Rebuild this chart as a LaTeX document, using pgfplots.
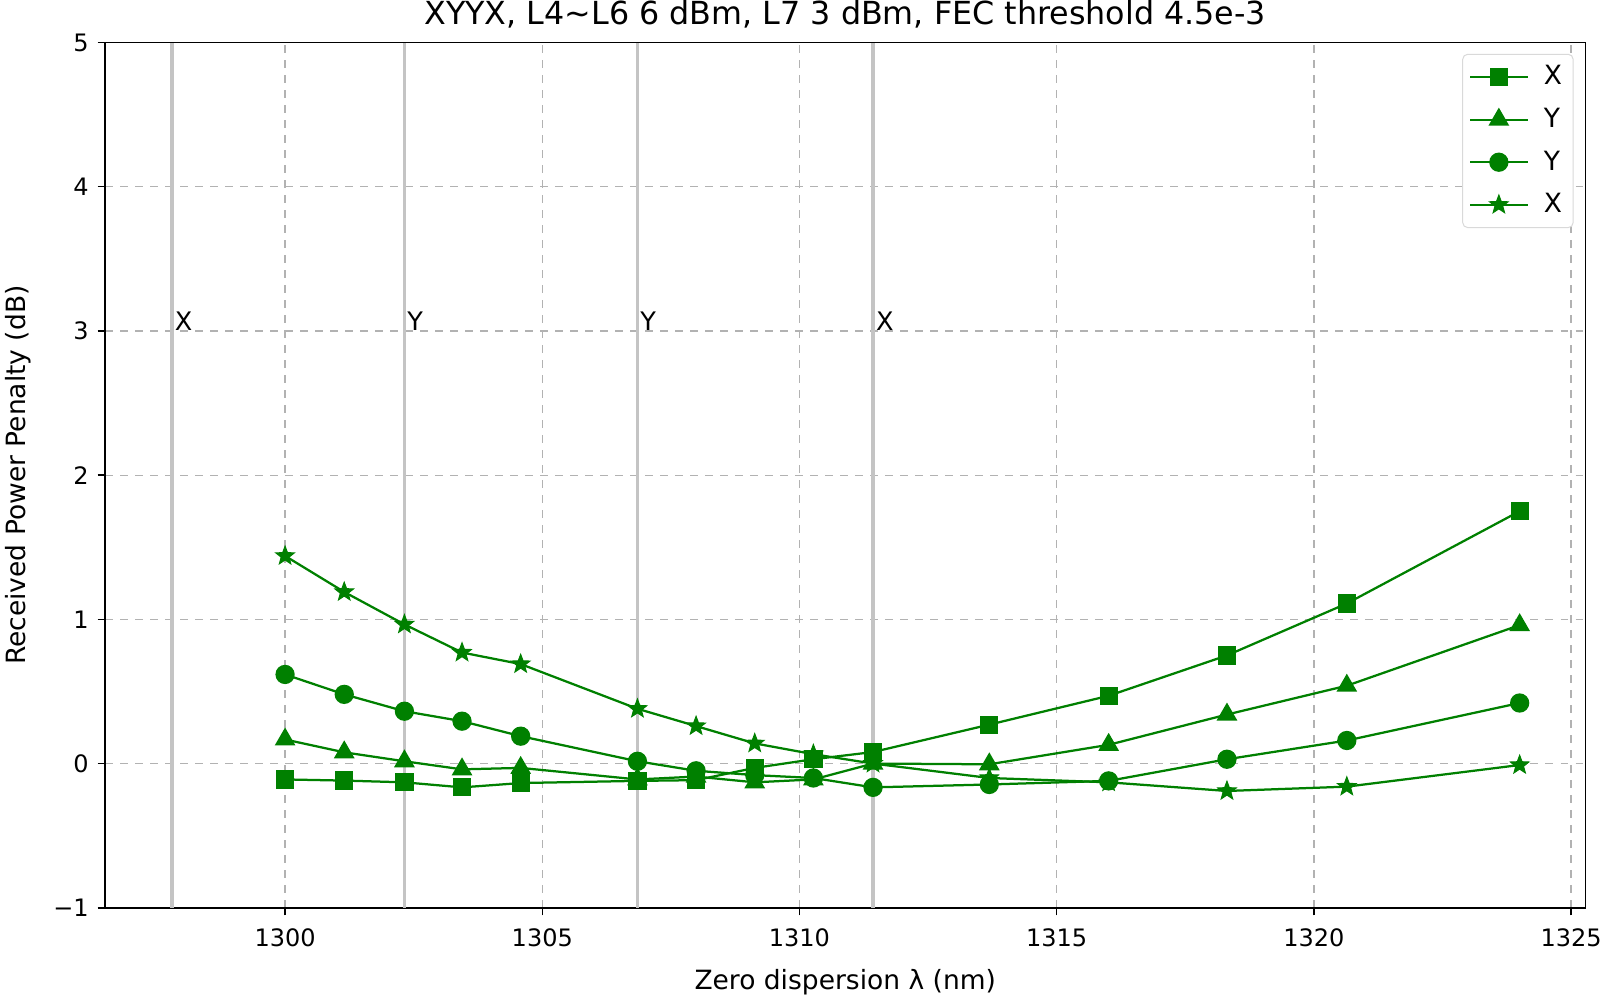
\documentclass[border=0pt]{standalone}
\usepackage{fontspec}
\setmainfont{DejaVu Sans}
\usepackage{pgfplots}
\pgfplotsset{compat=1.18}
\definecolor{mplgreen}{HTML}{008000}
\definecolor{vline}{HTML}{C4C4C4}

% filled five-point star, like matplotlib's '*'
\pgfdeclareplotmark{fstar}{%
  \pgfpathmoveto{\pgfpointpolar{90}{\pgfplotmarksize}}%
  \pgfpathlineto{\pgfpointpolar{126}{0.42\pgfplotmarksize}}%
  \pgfpathlineto{\pgfpointpolar{162}{\pgfplotmarksize}}%
  \pgfpathlineto{\pgfpointpolar{198}{0.42\pgfplotmarksize}}%
  \pgfpathlineto{\pgfpointpolar{234}{\pgfplotmarksize}}%
  \pgfpathlineto{\pgfpointpolar{270}{0.42\pgfplotmarksize}}%
  \pgfpathlineto{\pgfpointpolar{306}{\pgfplotmarksize}}%
  \pgfpathlineto{\pgfpointpolar{342}{0.42\pgfplotmarksize}}%
  \pgfpathlineto{\pgfpointpolar{18}{\pgfplotmarksize}}%
  \pgfpathlineto{\pgfpointpolar{54}{0.42\pgfplotmarksize}}%
  \pgfpathclose
  \pgfusepathqfillstroke}

% x positions shared by all four series
\pgfplotstableread{
x        sq      tri     cir     st
1300.00  -0.110  0.167   0.618   1.440
1301.15  -0.118  0.078   0.480   1.190
1302.32  -0.130  0.016   0.363   0.965
1303.44  -0.165  -0.040  0.294   0.770
1304.58  -0.135  -0.030  0.190   0.690
1306.85  -0.120  -0.110  0.016   0.380
1307.99  -0.115  -0.090  -0.050  0.260
1309.13  -0.030  -0.130  -0.080  0.140
1310.27  0.030   -0.110  -0.100  0.065
1311.43  0.080   0.000   -0.165  0.000
1313.69  0.270   -0.005  -0.145  -0.100
1316.01  0.470   0.130   -0.120  -0.130
1318.31  0.750   0.340   0.030   -0.190
1320.64  1.110   0.540   0.160   -0.160
1324.00  1.750   0.960   0.420   -0.010
}\datatable

\begin{document}
\begin{tikzpicture}
\begin{axis}[
    scale only axis,
    width=592pt, height=346pt,
    xmin=1296.5, xmax=1325.28,
    ymin=-1, ymax=5,
    xtick={1300,1305,...,1325},
    ytick={-1,0,...,5},
    yticklabels={−1,0,1,2,3,4,5},
    /pgf/number format/assume math mode=true,
    /pgf/number format/1000 sep={},
    font=\fontsize{9.6}{11}\selectfont,
    tick align=outside, tick pos=left,
    major tick length=3pt,
    tick style={black, line width=0.6pt},
    axis line style={line width=0.7pt},
    xticklabel style={yshift=-2pt},
    grid=major,
    major grid style={dashed, color=black!30, line width=0.5pt},
    xlabel={Zero dispersion λ (nm)},
    ylabel={Received Power Penalty (dB)},
    label style={font=\fontsize{10.6}{12}\selectfont},
    xlabel style={yshift=-2pt},
    ylabel style={yshift=2pt},
    title={XYYX, L4\textasciitilde L6 6 dBm, L7 3 dBm, FEC threshold 4.5e-3},
    title style={font=\fontsize{12.7}{14}\selectfont, yshift=-4pt},
    legend style={draw=black!15, rounded corners=2pt, at={(0.992,0.987)},
        anchor=north east, row sep=3.8pt, inner sep=2.5pt,
        font=\fontsize{10.6}{12}\selectfont,
        /tikz/every odd column/.append style={column sep=4pt}},
    legend cell align=left,
    legend image code/.code={
        \draw[mark repeat=2, mark phase=2]
        plot coordinates {(0pt,0pt) (11.5pt,0pt) (23pt,0pt)};},
    every axis plot/.append style={mplgreen, line width=0.9pt, mark options={solid, fill=mplgreen}},
]
% gray vertical marker lines with their labels
\addplot[vline, line width=1.3pt, forget plot, mark=none] coordinates {(1297.80,-1) (1297.80,5)};
\addplot[vline, line width=1.3pt, forget plot, mark=none] coordinates {(1302.32,-1) (1302.32,5)};
\addplot[vline, line width=1.3pt, forget plot, mark=none] coordinates {(1306.85,-1) (1306.85,5)};
\addplot[vline, line width=1.3pt, forget plot, mark=none] coordinates {(1311.43,-1) (1311.43,5)};
\node[anchor=base west, inner sep=0pt, xshift=1pt, font=\fontsize{10.2}{12}\selectfont] at (axis cs:1297.80,3) {X};
\node[anchor=base west, inner sep=0pt, xshift=1pt, font=\fontsize{10.2}{12}\selectfont] at (axis cs:1302.32,3) {Y};
\node[anchor=base west, inner sep=0pt, xshift=1pt, font=\fontsize{10.2}{12}\selectfont] at (axis cs:1306.85,3) {Y};
\node[anchor=base west, inner sep=0pt, xshift=1pt, font=\fontsize{10.2}{12}\selectfont] at (axis cs:1311.43,3) {X};

\addplot[mark=square*, mark size=3.2pt] table[x=x, y=sq] {\datatable};
\addlegendentry{X}
\addplot[mark=triangle*, mark size=3.9pt] table[x=x, y=tri] {\datatable};
\addlegendentry{Y}
\addplot[mark=*, mark size=3.4pt] table[x=x, y=cir] {\datatable};
\addlegendentry{Y}
\addplot[mark=fstar, mark size=3.9pt, mark options={line width=0.4pt}] table[x=x, y=st] {\datatable};
\addlegendentry{X}
\end{axis}
\pgfresetboundingbox
\path[use as bounding box] ([shift={(-42pt,-36pt)}]current axis.south west)
    rectangle ([shift={(11pt,17pt)}]current axis.north east);
\end{tikzpicture}
\end{document}
